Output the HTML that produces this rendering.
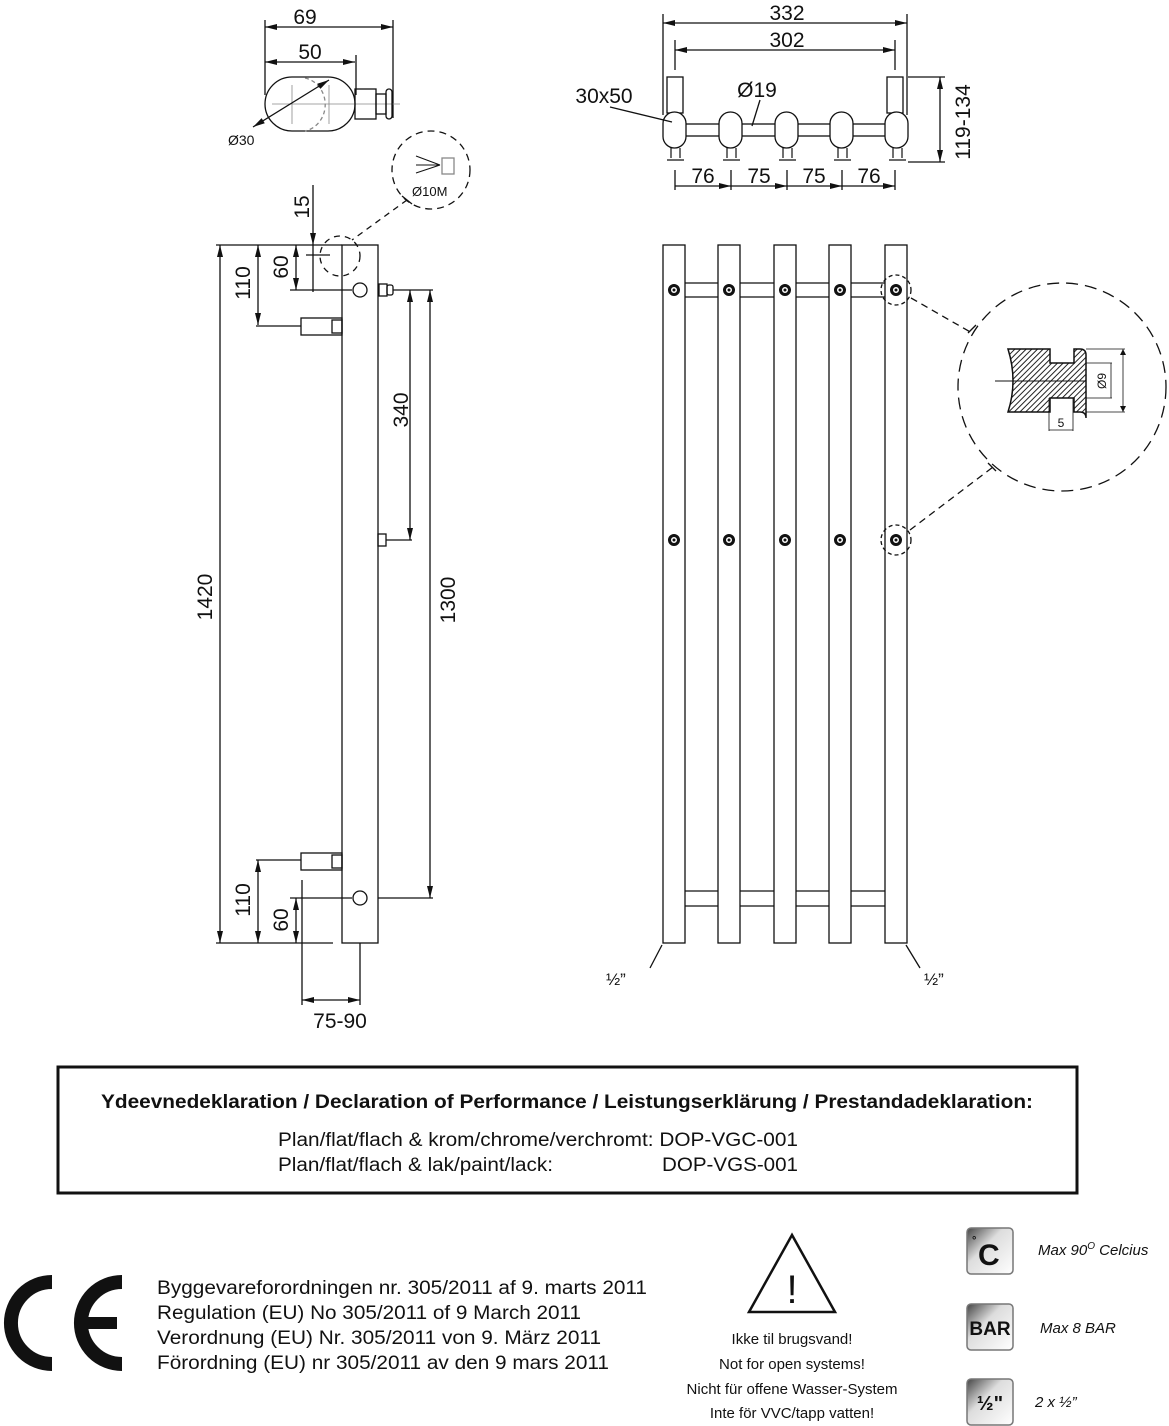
<!DOCTYPE html>
<html><head><meta charset="utf-8"><style>
html,body{margin:0;padding:0;background:#fff}
svg{display:block}
text{font-family:"Liberation Sans",Arial,sans-serif;fill:#111}
</style></head><body>
<svg width="1169" height="1426" viewBox="0 0 1169 1426" xmlns="http://www.w3.org/2000/svg">
<defs>
<marker id="a" viewBox="0 0 10 10" refX="10" refY="5" markerWidth="10" markerHeight="6" orient="auto-start-reverse" markerUnits="userSpaceOnUse"><path d="M0,0 L10,5 L0,10 z" fill="#111"/></marker>
<marker id="b" viewBox="0 0 12 6" refX="12" refY="3" markerWidth="16" markerHeight="6" orient="auto-start-reverse" markerUnits="userSpaceOnUse"><path d="M0,0 L12,3 L0,6 z" fill="#111"/></marker>
<pattern id="h" width="4" height="4" patternUnits="userSpaceOnUse" patternTransform="rotate(45)"><rect width="4" height="4" fill="#fff"/><line x1="0" y1="0" x2="0" y2="4" stroke="#222" stroke-width="2"/></pattern>
</defs>
<g stroke="#111" stroke-width="1.3" fill="none">
<line x1="265" y1="20" x2="265" y2="95"/><line x1="393" y1="20" x2="393" y2="118"/><line x1="356" y1="55" x2="356" y2="95"/>
<line x1="265" y1="27" x2="393" y2="27" marker-start="url(#b)" marker-end="url(#b)"/>
<line x1="265" y1="62" x2="355" y2="62" marker-start="url(#b)" marker-end="url(#b)"/>
<rect x="265" y="77" width="90" height="54" rx="27"/>
<line x1="272" y1="104" x2="400" y2="104" stroke="#888" stroke-width="0.8"/>
<line x1="292" y1="85" x2="292" y2="124" stroke="#888" stroke-width="0.8"/>
<line x1="329" y1="85" x2="329" y2="124" stroke="#888" stroke-width="0.8"/>
<path d="M305,78 A25,27 0 0 1 305,131" stroke="#888" stroke-dasharray="4 3"/>
<line x1="253" y1="127" x2="329" y2="80" marker-start="url(#b)" marker-end="url(#b)"/>
<rect x="355" y="89" width="21" height="30"/><rect x="376" y="94" width="10" height="20"/><rect x="386" y="89" width="6" height="30" rx="3"/>
<circle cx="431" cy="170" r="39" stroke-dasharray="7 5"/>
<path d="M416,156 L440,165 M416,173 L440,165 M416,165 L440,165" stroke-width="1"/>
<rect x="442" y="158" width="12" height="16" stroke="#888"/>
<path d="M407,200 L352,240" stroke-dasharray="6 5"/><line x1="402" y1="196" x2="412" y2="204"/>
<circle cx="340" cy="256" r="20" stroke-dasharray="6 5"/>
<rect x="342" y="245" width="36" height="698"/>
<line x1="216" y1="245" x2="342" y2="245"/><line x1="216" y1="943" x2="333" y2="943"/>
<line x1="220" y1="245" x2="220" y2="943" marker-start="url(#b)" marker-end="url(#b)"/>
<line x1="258" y1="245" x2="258" y2="325" marker-start="url(#b)" marker-end="url(#b)"/>
<line x1="256" y1="326" x2="301" y2="326"/>
<line x1="296" y1="245" x2="296" y2="290" marker-start="url(#b)" marker-end="url(#b)"/>
<line x1="290" y1="290" x2="352" y2="290"/>
<line x1="313" y1="185" x2="313" y2="245" marker-end="url(#b)"/>
<line x1="313" y1="245" x2="313" y2="292"/>
<line x1="306" y1="255" x2="330" y2="255"/>
<circle cx="360" cy="290" r="7"/>
<rect x="301" y="318" width="41" height="17"/><rect x="332" y="320" width="10" height="13"/>
<rect x="379" y="284" width="8" height="12"/><rect x="387" y="285" width="6" height="10" rx="2"/>
<line x1="393" y1="290" x2="433" y2="290"/>
<line x1="410" y1="290" x2="410" y2="540" marker-start="url(#b)" marker-end="url(#b)"/>
<line x1="430" y1="290" x2="430" y2="898" marker-start="url(#b)" marker-end="url(#b)"/>
<rect x="378" y="534" width="8" height="12"/><line x1="386" y1="540" x2="412" y2="540"/>
<rect x="301" y="853" width="41" height="17"/><rect x="332" y="855" width="10" height="13"/>
<line x1="256" y1="860" x2="301" y2="860"/>
<circle cx="360" cy="898" r="7"/>
<line x1="290" y1="898" x2="352" y2="898"/><line x1="378" y1="898" x2="433" y2="898"/>
<line x1="258" y1="860" x2="258" y2="943" marker-start="url(#b)" marker-end="url(#b)"/>
<line x1="296" y1="898" x2="296" y2="943" marker-start="url(#b)" marker-end="url(#b)"/>
<line x1="302" y1="880" x2="302" y2="1005"/><line x1="360" y1="943" x2="360" y2="1005"/>
<line x1="302" y1="1000" x2="360" y2="1000" marker-start="url(#b)" marker-end="url(#b)"/>
<line x1="663" y1="14" x2="663" y2="115"/><line x1="907" y1="14" x2="907" y2="115"/>
<line x1="675" y1="40" x2="675" y2="70"/><line x1="895" y1="40" x2="895" y2="70"/>
<line x1="663" y1="23" x2="907" y2="23" marker-start="url(#b)" marker-end="url(#b)"/>
<line x1="675" y1="50" x2="895" y2="50" marker-start="url(#b)" marker-end="url(#b)"/>
<rect x="667" y="77" width="16" height="36"/><rect x="887" y="77" width="16" height="36"/>
<rect x="680" y="124" width="212" height="12" fill="#fff"/>
<g fill="#fff">
<rect x="663" y="112" width="23" height="36" rx="11.5"/><rect x="719" y="112" width="23" height="36" rx="11.5"/><rect x="775" y="112" width="23" height="36" rx="11.5"/><rect x="830" y="112" width="23" height="36" rx="11.5"/><rect x="885" y="112" width="23" height="36" rx="11.5"/>
</g>
<g stroke-width="1.2">
<path d="M671,148v10M680,148v10M667,160h17M727,148v10M736,148v10M723,160h17M783,148v10M792,148v10M779,160h17M838,148v10M847,148v10M834,160h17M893,148v10M902,148v10M889,160h17"/>
</g>
<line x1="610" y1="107" x2="672" y2="122"/>
<line x1="760" y1="100" x2="752" y2="126"/>
<line x1="908" y1="77" x2="945" y2="77"/><line x1="908" y1="162" x2="945" y2="162"/>
<line x1="940" y1="77" x2="940" y2="162" marker-start="url(#b)" marker-end="url(#b)"/>
<line x1="675" y1="170" x2="675" y2="190"/><line x1="731" y1="170" x2="731" y2="190"/><line x1="787" y1="170" x2="787" y2="190"/><line x1="842" y1="170" x2="842" y2="190"/><line x1="895" y1="170" x2="895" y2="190"/>
<line x1="675" y1="186" x2="731" y2="186" marker-end="url(#b)"/><line x1="731" y1="186" x2="787" y2="186" marker-end="url(#b)"/><line x1="787" y1="186" x2="842" y2="186" marker-end="url(#b)"/><line x1="842" y1="186" x2="895" y2="186" marker-end="url(#b)"/>
<rect x="663" y="245" width="22" height="698"/><rect x="718" y="245" width="22" height="698"/><rect x="774" y="245" width="22" height="698"/><rect x="829" y="245" width="22" height="698"/><rect x="885" y="245" width="22" height="698"/>
<path d="M685,283h33M685,297h33M740,283h34M740,297h34M796,283h33M796,297h33M851,283h34M851,297h34"/>
<path d="M685,891h33M685,906h33M740,891h34M740,906h34M796,891h33M796,906h33M851,891h34M851,906h34"/>
<g stroke-width="3">
<circle cx="674" cy="290" r="4.5"/><circle cx="729" cy="290" r="4.5"/><circle cx="785" cy="290" r="4.5"/><circle cx="840" cy="290" r="4.5"/><circle cx="896" cy="290" r="4.5"/>
<circle cx="674" cy="540" r="4.5"/><circle cx="729" cy="540" r="4.5"/><circle cx="785" cy="540" r="4.5"/><circle cx="840" cy="540" r="4.5"/><circle cx="896" cy="540" r="4.5"/>
</g>
<g fill="#111" stroke="none">
<circle cx="674" cy="290" r="1.5"/><circle cx="729" cy="290" r="1.5"/><circle cx="785" cy="290" r="1.5"/><circle cx="840" cy="290" r="1.5"/><circle cx="896" cy="290" r="1.5"/>
<circle cx="674" cy="540" r="1.5"/><circle cx="729" cy="540" r="1.5"/><circle cx="785" cy="540" r="1.5"/><circle cx="840" cy="540" r="1.5"/><circle cx="896" cy="540" r="1.5"/>
</g>
<circle cx="896" cy="290" r="15" stroke-dasharray="4 3"/><circle cx="896" cy="540" r="15" stroke-dasharray="4 3"/>
<path d="M911,298 L972,333" stroke-dasharray="7 5"/><path d="M910,530 L993,467" stroke-dasharray="7 5"/>
<line x1="968" y1="333" x2="976" y2="325"/><line x1="988" y1="463" x2="996" y2="471"/>
<circle cx="1062" cy="387" r="104" stroke-dasharray="12 7"/>
<path d="M1008,349 H1050 V363 H1074 V349 H1080 Q1086,349 1086,355 V418 Q1086,412 1080,412 H1074 V398 H1050 V412 H1008 Q1018,381 1008,349 Z" fill="url(#h)" stroke-width="1.5"/>
<line x1="995" y1="381" x2="1086" y2="381" stroke-width="1"/>
<path d="M1086,349H1125M1086,412H1125M1086,363H1112M1086,398H1112" stroke-width="0.8"/>
<line x1="1123" y1="349" x2="1123" y2="412" stroke-width="0.8" marker-start="url(#a)" marker-end="url(#a)"/>
<line x1="1111" y1="363" x2="1111" y2="398" stroke-width="0.8"/>
<path d="M1049,398V431M1073,398V431M1049,430H1073" stroke-width="0.8"/>
<line x1="662" y1="945" x2="650" y2="968"/><line x1="906" y1="945" x2="920" y2="968"/>
<rect x="58" y="1067" width="1019" height="126" stroke-width="3"/>
<path d="M792,1235 L749,1312 L835,1312 Z" stroke-width="2.5" stroke-linejoin="miter"/>
</g>
<g font-size="21">
<text x="305" y="24" text-anchor="middle">69</text>
<text x="310" y="59" text-anchor="middle">50</text>
<text x="228" y="145" font-size="14">Ø30</text>
<text x="412" y="196" font-size="13">Ø10M</text>
<text transform="translate(309,207) rotate(-90)" text-anchor="middle">15</text>
<text transform="translate(212,597) rotate(-90)" text-anchor="middle">1420</text>
<text transform="translate(250,283) rotate(-90)" text-anchor="middle">110</text>
<text transform="translate(288,267) rotate(-90)" text-anchor="middle">60</text>
<text transform="translate(408,410) rotate(-90)" text-anchor="middle">340</text>
<text transform="translate(455,600) rotate(-90)" text-anchor="middle">1300</text>
<text transform="translate(250,900) rotate(-90)" text-anchor="middle">110</text>
<text transform="translate(288,920) rotate(-90)" text-anchor="middle">60</text>
<text x="340" y="1028" text-anchor="middle">75-90</text>
<text x="787" y="20" text-anchor="middle">332</text>
<text x="787" y="47" text-anchor="middle">302</text>
<text x="604" y="103" text-anchor="middle">30x50</text>
<text x="757" y="97" text-anchor="middle">Ø19</text>
<text transform="translate(970,122) rotate(-90)" text-anchor="middle">119-134</text>
<text x="703" y="183" text-anchor="middle">76</text><text x="759" y="183" text-anchor="middle">75</text><text x="814" y="183" text-anchor="middle">75</text><text x="869" y="183" text-anchor="middle">76</text>
<text x="606" y="985" font-size="17">½”</text><text x="924" y="985" font-size="17">½”</text>
</g>
<text transform="translate(1106,381) rotate(-90)" text-anchor="middle" font-size="12">Ø9</text>
<text x="1061" y="427" text-anchor="middle" font-size="12">5</text>
<text x="101" y="1108" font-size="19" font-weight="bold" textLength="932" lengthAdjust="spacingAndGlyphs">Ydeevnedeklaration / Declaration of Performance / Leistungserklärung / Prestandadeklaration:</text>
<text x="278" y="1146" font-size="19" textLength="520" lengthAdjust="spacingAndGlyphs">Plan/flat/flach &amp; krom/chrome/verchromt: DOP-VGC-001</text>
<text x="278" y="1171" font-size="19" textLength="275" lengthAdjust="spacingAndGlyphs">Plan/flat/flach &amp; lak/paint/lack:</text>
<text x="662" y="1171" font-size="19" textLength="136" lengthAdjust="spacingAndGlyphs">DOP-VGS-001</text>
<path d="M52,1282 A38,38 0 1 0 52,1364" stroke="#111" stroke-width="14" fill="none"/>
<path d="M122,1282 A38,38 0 1 0 122,1364" stroke="#111" stroke-width="14" fill="none"/>
<rect x="82" y="1317" width="35" height="12" fill="#111"/>
<g font-size="19">
<text x="157" y="1294" textLength="490" lengthAdjust="spacingAndGlyphs">Byggevareforordningen nr. 305/2011 af 9. marts 2011</text>
<text x="157" y="1319" textLength="424" lengthAdjust="spacingAndGlyphs">Regulation (EU) No 305/2011 of 9 March 2011</text>
<text x="157" y="1344" textLength="444" lengthAdjust="spacingAndGlyphs">Verordnung (EU) Nr. 305/2011 von 9. März 2011</text>
<text x="157" y="1369" textLength="452" lengthAdjust="spacingAndGlyphs">Förordning (EU) nr 305/2011 av den 9 mars 2011</text>
</g>
<text x="792" y="1303" text-anchor="middle" font-size="40">!</text>
<g font-size="15" text-anchor="middle">
<text x="792" y="1344">Ikke til brugsvand!</text>
<text x="792" y="1369">Not for open systems!</text>
<text x="792" y="1394">Nicht für offene Wasser-System</text>
<text x="792" y="1418">Inte för VVC/tapp vatten!</text>
</g>
<defs><linearGradient id="g" x1="0" y1="0" x2="1" y2="1"><stop offset="0" stop-color="#444"/><stop offset="0.4" stop-color="#ddd"/><stop offset="1" stop-color="#fff"/></linearGradient></defs>
<g stroke="#777" stroke-width="1.5">
<rect x="967" y="1228" width="46" height="46" rx="4" fill="url(#g)"/>
<rect x="967" y="1304" width="46" height="46" rx="4" fill="url(#g)"/>
<rect x="967" y="1379" width="46" height="46" rx="4" fill="url(#g)"/>
</g>
<text x="978" y="1265" font-size="30" font-weight="bold">C</text><text x="972" y="1244" font-size="11" font-weight="bold">°</text>
<text x="990" y="1335" font-size="19" font-weight="bold" text-anchor="middle">BAR</text>
<text x="990" y="1410" font-size="20" font-weight="bold" text-anchor="middle">½"</text>
<g font-size="15" font-style="italic">
<text x="1038" y="1255">Max 90<tspan font-size="10" dy="-6">O</tspan><tspan dy="6"> Celcius</tspan></text>
<text x="1040" y="1333">Max 8 BAR</text>
<text x="1035" y="1407">2 x ½”</text>
</g>
</svg>
</body></html>
